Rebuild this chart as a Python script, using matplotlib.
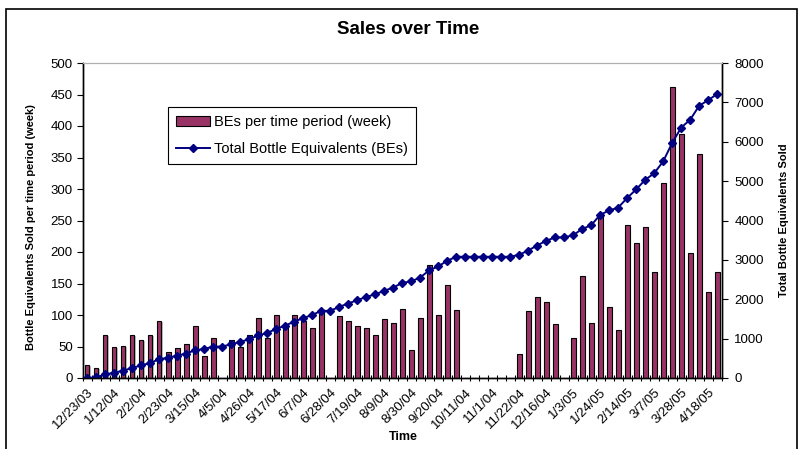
import matplotlib
matplotlib.use("Agg")
import matplotlib.pyplot as plt
import matplotlib.patheffects as pe
import matplotlib.transforms as mtransforms
from matplotlib.patches import Rectangle
import numpy as np

plt.rcParams['font.family'] = ['Liberation Sans', 'DejaVu Sans']

# weekly BEs (bars)
weekly = [21, 16, 68, 49, 51, 68, 60, 68, 91, 42,
          47, 54, 83, 35, 63, 0, 60, 49, 68, 95,
          63, 100, 84, 100, 90, 79, 107, 0, 99, 91,
          82, 79, 68, 94, 87, 110, 44, 95, 180, 100,
          148, 108, 0, 0, 0, 0, 0, 0, 38, 107,
          128, 120, 86, 0, 63, 162, 88, 259, 112, 76,
          243, 215, 239, 169, 309, 462, 388, 198, 356, 136,
          168]

# running total (line)
total = [0, 17, 90, 135, 186, 254, 318, 381, 474, 516,
         565, 622, 703, 737, 798, 798, 857, 915, 985, 1080,
         1143, 1245, 1330, 1430, 1520, 1600, 1705, 1705, 1805, 1892,
         1975, 2058, 2125, 2213, 2298, 2412, 2456, 2550, 2733, 2833,
         2975, 3080, 3080, 3080, 3080, 3080, 3080, 3080, 3128, 3238,
         3365, 3485, 3570, 3570, 3628, 3784, 3880, 4145, 4255, 4328,
         4572, 4790, 5032, 5200, 5502, 5970, 6360, 6560, 6915, 7055,
         7215]

date_labels = ['12/23/03', '1/12/04', '2/2/04', '2/23/04', '3/15/04', '4/5/04',
               '4/26/04', '5/17/04', '6/7/04', '6/28/04', '7/19/04', '8/9/04',
               '8/30/04', '9/20/04', '10/11/04', '11/1/04', '11/22/04', '12/16/04',
               '1/3/05', '1/24/05', '2/14/05', '3/7/05', '3/28/05', '4/18/05']

x = np.arange(len(weekly))

fig = plt.figure(figsize=(8.01, 4.49), dpi=100)
ax = fig.add_axes([82.5/801, 1-378/449, (721.7-82.5)/801, 315/449])
ax2 = ax.twinx()

# chart area border
fig.patches.append(Rectangle((6/801, -0.1), 791/801, 1.1-9/449, transform=fig.transFigure,
                             fill=False, edgecolor='black', linewidth=1.2))

bars = ax.bar(x, weekly, width=0.55, color='#993366', edgecolor='black', linewidth=0.8,
              label='BEs per time period (week)')
for b in bars:
    b.set_path_effects([pe.SimplePatchShadow(offset=(1.2, -0.6), shadow_rgbFace='#808080', alpha=0.5),
                        pe.Normal()])

line, = ax2.plot(x, total, color='#000080', linewidth=1.4, marker='D', markersize=4,
                 markerfacecolor='#000080', markeredgecolor='#000080',
                 label='Total Bottle Equivalents (BEs)')

ax.set_xlim(-0.5, len(weekly) - 0.5)
ax.set_ylim(0, 500)
ax2.set_ylim(0, 8000)
ax.set_yticks(np.arange(0, 501, 50))
ax2.set_yticks(np.arange(0, 8001, 1000))

# tick marks between categories, labels every 3rd category
ax.set_xticks(x[::3])
ax.set_xticklabels(date_labels, rotation=45, ha='right', rotation_mode='anchor', fontsize=9.5)
shift = mtransforms.ScaledTranslation(-6/100, 0, fig.dpi_scale_trans)
for lab in ax.get_xticklabels():
    lab.set_transform(lab.get_transform() + shift)
ax.set_xticks(np.arange(-0.5, len(weekly)), minor=True)
ax.tick_params(axis='x', which='major', length=0, pad=6)
ax.tick_params(axis='x', which='minor', length=5, direction='inout', width=0.8)
ax.tick_params(axis='y', labelsize=9.5, length=4, width=0.8, pad=3)
ax2.tick_params(axis='y', labelsize=9.5, length=4, width=0.8, pad=5)

for a in (ax, ax2):
    a.spines['top'].set_color('#b0b0b0')
    a.spines['left'].set_linewidth(1)
    a.spines['right'].set_linewidth(1)
    a.spines['bottom'].set_linewidth(1)

ax.set_ylabel('Bottle Equivalents Sold per time period (week)', fontsize=8, fontweight='bold')
ax.yaxis.set_label_coords(-0.073, 0.48)
ax2.set_ylabel('Total Bottle Equivalents Sold', fontsize=8, fontweight='bold')
ax2.yaxis.set_label_coords(1.09, 0.5)
fig.text(403/801, 1-437/449, 'Time', ha='center', va='center', fontsize=9, fontweight='bold')
fig.text(408/801, 1-30/449, 'Sales over Time', ha='center', va='center', fontsize=13.5, fontweight='bold')

leg = ax2.legend(handles=[bars, line], loc='upper left', bbox_to_anchor=(168/801, 1-107/449),
                 bbox_transform=fig.transFigure, borderaxespad=0, fontsize=10.5, handlelength=2.3,
                 labelspacing=0.9, fancybox=False, edgecolor='black', framealpha=1,
                 borderpad=0.55, handletextpad=0.3)
leg.get_frame().set_linewidth(0.8)

fig.savefig('out.png', dpi=100)
